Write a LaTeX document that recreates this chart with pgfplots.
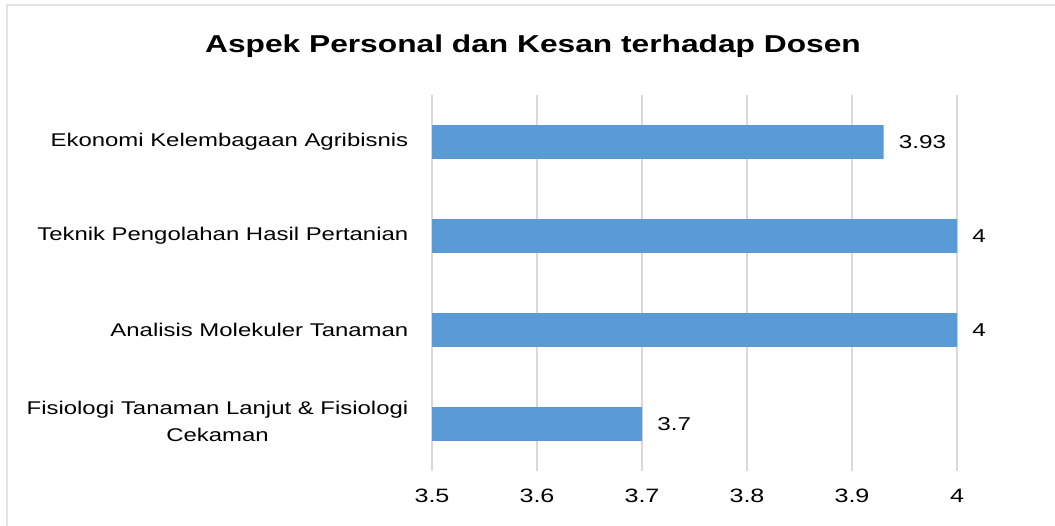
\documentclass[border=0pt]{standalone}
\usepackage{fontspec}
\setmainfont[FakeStretch=1.3]{Liberation Sans}
\usepackage{pgfplots}
\pgfplotsset{compat=1.18}
\definecolor{barblue}{HTML}{5B9BD5}
\definecolor{gridgray}{HTML}{D9D9D9}
\definecolor{framegray}{HTML}{E3E3E3}
\begin{document}
\begin{tikzpicture}
\useasboundingbox (0,0) rectangle (1055*0.75pt,-525*0.75pt);
\draw[framegray, line width=1.5pt] (7*0.75pt,-600*0.75pt) -- (7*0.75pt,-5*0.75pt) -- (1100*0.75pt,-5*0.75pt);
\node[font=\fontsize{18.3}{22}\selectfont\bfseries] at (533*0.75pt,-46*0.75pt) {Aspek Personal dan Kesan terhadap Dosen};
\begin{axis}[
  at={(432*0.75pt,-471*0.75pt)}, anchor=south west,
  scale only axis,
  width=393.75pt, height=282pt,
  xbar, bar width=0.36,
  xmin=3.5, xmax=4,
  ymin=-0.5, ymax=3.5,
  xtick={3.5,3.6,3.7,3.8,3.9,4},
  xticklabels={3.5,3.6,3.7,3.8,3.9,4},
  ytick={0,1,2,3},
  yticklabels={{\begin{tabular}{@{}c@{}}Fisiologi Tanaman Lanjut \& Fisiologi\\[4pt] Cekaman\end{tabular}},
    Analisis Molekuler Tanaman, Teknik Pengolahan Hasil Pertanian, Ekonomi Kelembagaan Agribisnis},
  tick style={draw=none},
  axis line style={draw=none},
  xmajorgrids, grid style={gridgray, line width=1.4pt},
  yticklabel style={font=\fontsize{13.8}{16}\selectfont, xshift=-10pt},
  xticklabel style={font=\fontsize{14.5}{17}\selectfont, yshift=-10pt},
  nodes near coords,
  every node near coord/.append style={font=\fontsize{14}{16}\selectfont, black, anchor=west, xshift=8pt},
  point meta=explicit symbolic,
  clip=false,
]
\addplot[fill=barblue, draw=none] coordinates {
  (3.7,0) [3.7]
  (4,1) [4]
  (4,2) [4]
  (3.93,3) [3.93]
};
\end{axis}
\end{tikzpicture}
\end{document}
